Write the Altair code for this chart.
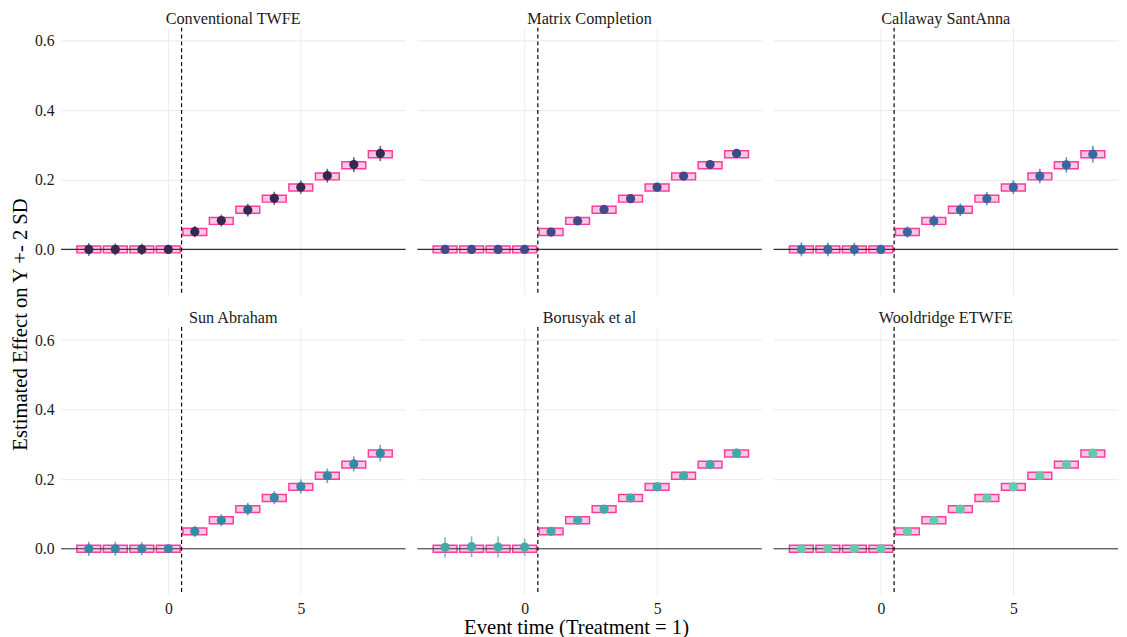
import altair as alt
import pandas as pd

methods = ["Conventional TWFE", "Matrix Completion", "Callaway SantAnna",
           "Sun Abraham", "Borusyak et al", "Wooldridge ETWFE"]
colors = ["#36284F", "#3E4A89", "#39679F", "#3689A6", "#42ABAA", "#62CBA9"]

event_time = [-3, -2, -1, 0, 1, 2, 3, 4, 5, 6, 7, 8]
truth = [0.0, 0.0, 0.0, 0.0, 0.05, 0.082, 0.114, 0.146, 0.178, 0.21, 0.242, 0.274]

est_twfe = [0.0, 0.0, 0.0, 0.0, 0.051, 0.083, 0.113, 0.147, 0.179, 0.212, 0.244, 0.276]
ci_twfe = [0.018, 0.017, 0.016, 0.013, 0.016, 0.017, 0.018, 0.019, 0.019, 0.020, 0.021, 0.022]
est_mc = [0.0, 0.0, 0.0, 0.0, 0.050, 0.082, 0.115, 0.146, 0.179, 0.211, 0.244, 0.276]
ci_mc = [0.005, 0.005, 0.005, 0.005, 0.009, 0.009, 0.010, 0.010, 0.011, 0.011, 0.012, 0.013]
est_cs = [0.0, 0.0, 0.0, 0.0, 0.050, 0.082, 0.114, 0.146, 0.179, 0.211, 0.243, 0.274]
ci_cs = [0.020, 0.020, 0.019, 0.012, 0.016, 0.017, 0.018, 0.019, 0.020, 0.021, 0.022, 0.024]
est_sa = [0.0, 0.0, 0.0, 0.0, 0.050, 0.082, 0.114, 0.147, 0.179, 0.210, 0.244, 0.275]
ci_sa = [0.020, 0.020, 0.019, 0.012, 0.016, 0.017, 0.018, 0.019, 0.020, 0.021, 0.022, 0.024]
est_bjs = [0.004, 0.006, 0.005, 0.005, 0.050, 0.082, 0.114, 0.146, 0.178, 0.210, 0.242, 0.275]
ci_bjs = [0.029, 0.030, 0.030, 0.025, 0.010, 0.010, 0.011, 0.011, 0.012, 0.012, 0.013, 0.013]
est_wool = [0.0, 0.0, 0.0, 0.0, 0.050, 0.082, 0.114, 0.146, 0.178, 0.210, 0.242, 0.275]
ci_wool = [0.004, 0.004, 0.004, 0.004, 0.009, 0.009, 0.010, 0.010, 0.011, 0.011, 0.012, 0.012]

ests = [est_twfe, est_mc, est_cs, est_sa, est_bjs, est_wool]
cis = [ci_twfe, ci_mc, ci_cs, ci_sa, ci_bjs, ci_wool]

rows = []
for m, e_list, c_list in zip(methods, ests, cis):
    for t, tr, e, c in zip(event_time, truth, e_list, c_list):
        rows.append({"method": m, "t": t, "truth": tr, "est": e, "ci": c})
df = pd.DataFrame(rows)

FONT = "Liberation Serif"
XT = "Event time (Treatment = 1)"
YT = "Estimated Effect on Y +- 2 SD"

xs = alt.Scale(domain=[-4.05, 8.95], nice=False, zero=False)
ys = alt.Scale(domain=[-0.13, 0.638], nice=False, zero=False)
xaxis = alt.Axis(values=[0, 5], format="d", grid=True, title=None)
yaxis = alt.Axis(values=[0, 0.2, 0.4, 0.6], format=".1f", grid=True, title=None)

base = alt.Chart()

rect = base.transform_calculate(
    x0="datum.t - 0.45", x1="datum.t + 0.45",
    y0="datum.truth - 0.01", y1="datum.truth + 0.01"
).mark_rect(fill="#FCC8E2", stroke="#FA3C9F", strokeWidth=1.5).encode(
    x=alt.X("x0:Q", scale=xs, axis=xaxis),
    x2="x1:Q",
    y=alt.Y("y0:Q", scale=ys, axis=yaxis),
    y2="y1:Q",
)

zero = base.transform_filter("datum.t == 0").mark_rule(
    color="#333333", strokeWidth=1.2
).encode(y=alt.Y(datum=0, scale=ys, axis=yaxis))

vline = base.transform_filter("datum.t == 0").mark_rule(
    color="#000000", strokeWidth=1.2, strokeDash=[4, 3]
).encode(x=alt.X(datum=0.5, scale=xs, axis=xaxis))

err = base.transform_calculate(
    lo="datum.est - datum.ci", hi="datum.est + datum.ci"
).mark_rule(strokeWidth=1.6, opacity=0.75).encode(
    x=alt.X("t:Q", scale=xs, axis=xaxis),
    y=alt.Y("lo:Q", scale=ys, axis=yaxis),
    y2="hi:Q",
    color=alt.Color("method:N", scale=alt.Scale(domain=methods, range=colors), legend=None),
)

pts = base.mark_circle(size=88, opacity=1).encode(
    x=alt.X("t:Q", scale=xs, axis=xaxis),
    y=alt.Y("est:Q", scale=ys, axis=yaxis),
    color=alt.Color("method:N", scale=alt.Scale(domain=methods, range=colors), legend=None),
)

layered = alt.layer(rect, zero, vline, err, pts).properties(width=351, height=272)

facet_chart = layered.facet(
    data=df,
    facet=alt.Facet("method:N", sort=methods,
                    header=alt.Header(title=None, labelFont=FONT, labelFontSize=16.5,
                                      labelColor="#1a1a1a", labelPadding=0)),
    columns=3,
    spacing={"row": 14, "column": 10},
).properties(
    title=alt.TitleParams(XT, orient="bottom", anchor="middle", font=FONT, fontSize=21,
                          fontWeight="normal", color="#000000", offset=1)
)

chart = alt.hconcat(facet_chart).properties(
    title=alt.TitleParams(YT, orient="left", anchor="middle", font=FONT, fontSize=21,
                          fontWeight="normal", color="#000000", offset=4),
    padding={"left": 1, "top": -4, "right": 0, "bottom": 0},
).configure_view(stroke=None).configure_axis(
    domain=False, ticks=False, gridColor="#EBEBEB", gridWidth=1,
    labelFont=FONT, labelFontSize=16, labelColor="#1a1a1a", labelPadding=6,
).configure_concat(spacing=0)

chart.save("out.html", embed_options={"renderer": "svg", "actions": False})
